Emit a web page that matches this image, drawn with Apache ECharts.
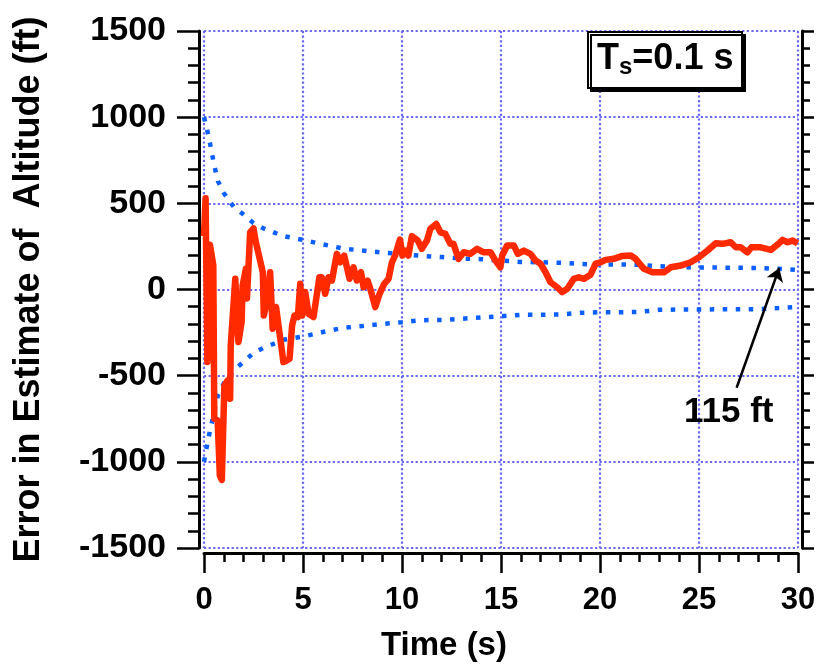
<!DOCTYPE html>
<html>
<head>
<meta charset="utf-8">
<script src="https://cdn.jsdelivr.net/npm/echarts@6/dist/echarts.min.js"></script>
<style>
  html, body { margin: 0; padding: 0; background: #fff; }
  #chart { width: 818px; height: 664px; }
</style>
</head>
<body>
<div id="chart"></div>
<script>
// red curve: time (s) and error (ft)
var redT = [0.00, 0.08, 0.12, 0.17, 0.30, 0.40, 0.47, 0.52, 0.69, 0.80, 0.90, 1.03, 1.20, 1.32, 1.35, 1.58, 1.74, 1.90, 1.95,
  2.12, 2.17, 2.33, 2.50, 2.60, 2.97, 3.02, 3.17, 3.34, 3.47, 3.64, 4.01, 4.32, 4.45, 4.57, 4.74, 4.86, 4.96,
  5.11, 5.28, 5.53, 5.83, 5.95, 6.12, 6.29, 6.46, 6.71, 6.88, 7.08, 7.35, 7.55, 7.72, 7.93, 8.06, 8.26, 8.40,
  8.65, 8.87, 9.10, 9.32, 9.49, 9.66, 9.90, 10.02, 10.17, 10.32, 10.50, 10.80, 11.00, 11.26, 11.43, 11.73,
  11.94, 12.19, 12.44, 12.60, 12.86, 13.12, 13.45, 13.79, 14.13, 14.47, 14.72, 14.97, 15.06, 15.31, 15.65,
  15.85, 16.15, 16.49, 16.74, 17.00, 17.25, 17.50, 17.84, 18.09, 18.35, 18.68, 18.93, 19.20, 19.52, 19.78,
  20.03, 20.28, 20.70, 21.13, 21.55, 21.80, 22.22, 22.65, 23.23, 23.57, 24.08, 24.58, 25.00, 25.43, 25.85,
  26.19, 26.60, 26.86, 27.11, 27.45, 27.65, 28.12, 28.63, 28.97, 29.22, 29.47, 29.73, 29.98];
var redV = [310, 530, 540, -420, 260, 260, 140, -750, -760, -1080, -1105, -557, -527, -634, -325, 62, -305, -190, 23,
  122, -52, 332, 355, 284, 100, -151, -73, 100, -228, -102, -421, -402, -209, -151, -160, 33, -151,
  -15, -141, -160, 71, 71, -25, 71, 52, 207, 158, 197, 62, 129, 52, 100, 13, 52, 4,
  -102, -25, 33, 62, 158, 200, 290, 197, 226, 197, 310, 284, 236, 284, 352, 380,
  332, 323, 265, 265, 178, 216, 207, 236, 216, 216, 168, 129, 197, 255, 255,
  207, 226, 207, 168, 149, 100, 42, 13, -15, 4, 62, 71, 62, 85, 150,
  158, 172, 178, 195, 197, 178, 120, 100, 100, 129, 139, 158, 187, 226, 268,
  265, 274, 245, 245, 216, 245, 245, 230, 261, 288, 274, 284, 268];

// blue dotted bounds
var envT = [0, 0.1, 0.2, 0.3, 0.4, 0.5, 0.7, 1, 1.5, 2, 2.5, 3, 4, 5, 6, 7, 8, 9, 10, 11, 12, 13, 14, 15,
  16, 17, 18, 19, 20, 21, 22, 23, 24, 25, 26, 27, 28, 29, 30];
var envUp = [1000, 955, 905, 850, 790, 730, 630, 560, 480, 435, 385, 355, 310, 288, 262, 238, 226, 215, 205, 195,
  188, 180, 176, 168, 160, 158, 155, 148, 145, 145, 143, 135, 130, 128, 127, 126, 125, 120, 113];
var envLo = [-1000, -935, -880, -820, -770, -715, -615, -545, -468, -420, -368, -340, -292, -273, -247, -223, -212,
  -200, -190, -178, -177, -170, -162, -155, -147, -147, -145, -135, -132, -132, -130, -118, -116, -116, -115,
  -115, -114, -108, -100];

// axis ticks
var xMin = 0, xMax = 30, xStep = 5;
var yMin = -1500, yMax = 1500, yStep = 500;

var FONT = '"Liberation Sans", Arial, Helvetica, sans-serif';

function pairs(xs, ys) {
  return xs.map(function (x, i) { return [x, ys[i]]; });
}

var chart = echarts.init(document.getElementById('chart'));
var gridStyle = { color: '#6868f0', width: 2.2, type: [2.2, 2.4] };
var envStyle = { color: '#0b5fff', width: 4.5, type: [4.5, 8.5], cap: 'butt' };
var blackLine = { color: '#000', width: 3 };
var blackTick = { color: '#000', width: 2.5 };

chart.setOption({
  animation: false,
  backgroundColor: '#fff',
  textStyle: { fontFamily: FONT },
  title: {
    text: '{t|T}{s|s}{t|=0.1 s}',
    left: 588, top: 30,
    padding: [9, 9, 9, 9],
    backgroundColor: '#fff',
    borderColor: '#000', borderWidth: 2,
    shadowColor: '#000', shadowOffsetX: 3, shadowOffsetY: 3, shadowBlur: 0,
    textStyle: {
      rich: {
        t: { fontSize: 36, fontWeight: 'bold', color: '#000', fontFamily: FONT, lineHeight: 40 },
        s: { fontSize: 24, fontWeight: 'bold', color: '#000', fontFamily: FONT, lineHeight: 14, verticalAlign: 'bottom' }
      }
    }
  },
  grid: { left: 204, right: 20, top: 31, bottom: 116, containLabel: false, outerBoundsMode: 'none' },
  xAxis: {
    type: 'value', min: xMin, max: xMax, interval: xStep,
    offset: 5,
    name: 'Time (s)', nameLocation: 'middle', nameGap: 76,
    nameTextStyle: { fontSize: 33, fontWeight: 'bold', color: '#000', fontFamily: FONT, padding: [0, 114, 0, 0] },
    axisLine: { show: true, onZero: false, lineStyle: blackLine },
    axisTick: { show: true, length: 20, lineStyle: blackTick },
    minorTick: { show: true, splitNumber: 5, length: 9, lineStyle: blackTick },
    axisLabel: { fontSize: 31, fontWeight: 'bold', color: '#000', margin: 32, fontFamily: FONT },
    splitLine: { show: true, lineStyle: gridStyle }
  },
  yAxis: [{
    type: 'value', min: yMin, max: yMax, interval: yStep,
    offset: 5,
    name: 'Error in Estimate of  Altitude (ft)', nameLocation: 'middle', nameRotate: 90, nameGap: 152,
    nameTextStyle: { fontSize: 36, fontWeight: 'bold', color: '#000', fontFamily: FONT },
    axisLine: { show: true, onZero: false, lineStyle: blackLine },
    axisTick: { show: true, length: 22, lineStyle: blackTick },
    minorTick: { show: true, splitNumber: 5, length: 11, lineStyle: blackTick },
    axisLabel: {
      fontSize: 34, fontWeight: 'bold', color: '#000', margin: 33, fontFamily: FONT,
      formatter: function (v) { return String(v); }
    },
    splitLine: { show: true, lineStyle: gridStyle }
  }, {
    type: 'value', min: yMin, max: yMax, interval: yStep,
    position: 'right', offset: 4,
    axisLine: { show: true, onZero: false, lineStyle: blackLine },
    axisTick: { show: true, length: 12, lineStyle: blackTick },
    minorTick: { show: true, splitNumber: 5, length: 8, lineStyle: blackTick },
    axisLabel: { show: false },
    splitLine: { show: false }
  }],
  series: [{
    type: 'line', data: pairs(envT, envUp), showSymbol: false, lineStyle: envStyle, z: 2
  }, {
    type: 'line', data: pairs(envT, envLo), showSymbol: false, lineStyle: envStyle, z: 2
  }, {
    type: 'line', data: pairs(redT, redV), showSymbol: false,
    lineStyle: { color: '#ff2a00', width: 6.5, join: 'round' }, z: 3,
    markLine: {
      silent: true, symbol: ['none', 'arrow'], symbolSize: 13,
      label: { show: false },
      lineStyle: { color: '#000', width: 2.5, type: 'solid' },
      data: [[{ coord: [26.9, -570] }, { coord: [29.05, 125] }]]
    },
    markPoint: {
      silent: true, symbol: 'circle', symbolSize: 0,
      label: { show: true, position: 'inside', formatter: '115 ft', fontSize: 35, fontWeight: 'bold', color: '#000', fontFamily: FONT },
      data: [{ coord: [26.5, -710] }]
    }
  }]
});
</script>
</body>
</html>
